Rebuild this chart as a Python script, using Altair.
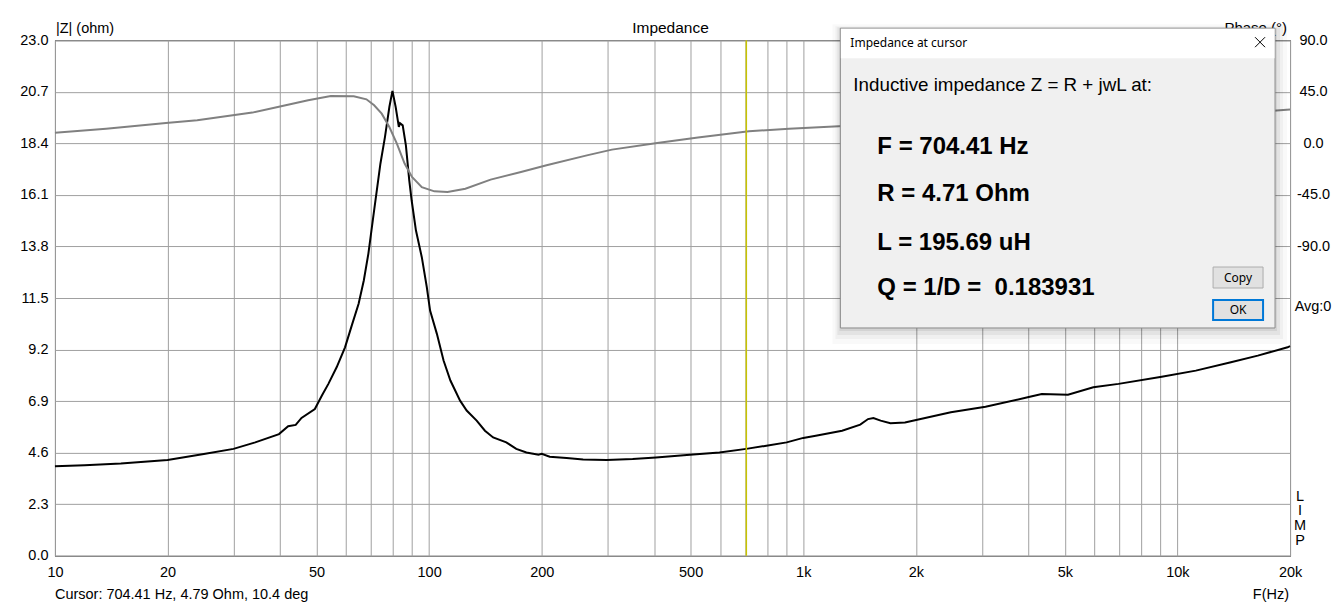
import altair as alt
import pandas as pd

# ---------------- data ----------------
z_freq = [10, 12, 15, 20, 25, 30, 34.3, 39.7, 42, 44, 45.6, 49.5, 51.7, 53.8, 56.6, 59.6,
          62.2, 64.8, 66.9, 68.8, 71.1, 74.1, 76.2, 78.3, 79.8, 81.4, 83.0, 83.6, 85.0, 86.7,
          88.5, 89.8, 92.2, 95.6, 98.6, 100.6, 104.9, 109.3, 114, 121, 126, 134, 141, 148.3,
          160.8, 171, 182, 196, 200, 210, 233, 258, 298, 350, 404, 498, 597, 704, 797, 903,
          1000, 1080, 1270, 1420, 1490, 1540, 1610, 1710, 1870, 2480, 3070, 3980, 4340, 5100,
          5960, 6960, 9080, 11200, 13900, 16400, 19700, 20000]
z_ohm = [3.99, 4.04, 4.12, 4.27, 4.54, 4.77, 5.06, 5.43, 5.78, 5.84, 6.15, 6.55, 7.15, 7.67,
         8.41, 9.30, 10.30, 11.24, 12.28, 13.47, 15.26, 17.49, 18.68, 20.02, 20.74, 20.02,
         19.13, 19.30, 19.20, 18.30, 16.75, 15.86, 14.52, 13.32, 11.98, 10.94, 9.90, 8.71,
         7.82, 6.92, 6.48, 6.03, 5.58, 5.28, 5.06, 4.77, 4.61, 4.51, 4.55, 4.42, 4.36, 4.30,
         4.27, 4.32, 4.39, 4.51, 4.61, 4.77, 4.91, 5.06, 5.26, 5.36, 5.58, 5.85, 6.10, 6.15,
         6.03, 5.91, 5.95, 6.40, 6.65, 7.07, 7.22, 7.19, 7.52, 7.67, 7.99, 8.26, 8.63, 8.93,
         9.30, 9.35]

ph_freq = [10, 13.7, 19.8, 24.0, 33.7, 39.4, 47.5, 54.6, 62.9, 68.0, 71.3, 74.7, 78.3, 82.0,
           86.0, 90.0, 95.6, 103.3, 112, 125, 146, 176, 206, 264, 308, 407, 523, 716, 916,
           1283, 2000, 3000, 5000, 8000, 12000, 16000, 20000]
ph_deg = [9.3, 12.8, 17.7, 20.1, 26.8, 31.7, 37.6, 41.3, 41.1, 38.4, 33.2, 25.9, 14.2, -0.3,
          -17.7, -29.4, -38.2, -41.9, -42.5, -39.6, -31.7, -25.0, -19.2, -10.5, -5.5, 0.3,
          5.0, 10.5, 12.8, 15.1, 16.6, 18.0, 20.0, 22.5, 25.0, 27.0, 29.5]

cursor_freq = [704.41]

x_grid_values = [10, 20, 30, 40, 50, 60, 70, 80, 90,
                 100, 200, 300, 400, 500, 600, 700, 800, 900,
                 1000, 2000, 3000, 4000, 5000, 6000, 7000, 8000, 9000,
                 10000, 20000]
x_label_values = [10, 20, 50, 100, 200, 500, 1000, 2000, 5000, 10000, 20000]
z_tick_values = [0.0, 2.3, 4.6, 6.9, 9.2, 11.5, 13.8, 16.1, 18.4, 20.7, 23.0]
phase_tick_values = [90, 45, 0, -45, -90]

# ---------------- layout ----------------
W, H = 1236, 516
FONT = "Liberation Sans"
UI_FONT = "Noto Sans"

z_df = pd.DataFrame({"f": z_freq, "z": z_ohm})
ph_df = pd.DataFrame({"f": ph_freq, "p": ph_deg})
cur_df = pd.DataFrame({"f": cursor_freq})
one = pd.DataFrame({"k": [0]})

label_expr = (
    "indexof([" + ",".join(str(v) for v in x_label_values) + "], datum.value) >= 0 ? "
    "(datum.value >= 1000 ? (datum.value / 1000) + 'k' : '' + datum.value) : ''"
)
signed_expr = ("datum.value < 0 ? '-' + format(-datum.value, '.1f') : "
               "format(datum.value, '.1f')")

x_enc = alt.X(
    "f:Q",
    scale=alt.Scale(type="log", domain=[10, 20000], nice=False),
    axis=alt.Axis(values=x_grid_values, grid=True, gridColor="#a0a0a0", gridWidth=1,
                  ticks=False, domain=False, labelExpr=label_expr, labelFontSize=14.5,
                  labelFont=FONT, labelColor="black", labelPadding=10,
                  labelOverlap=False, labelFlush=False, title=None),
)

imp = alt.Chart(z_df).mark_line(color="black", strokeWidth=2, interpolate="linear").encode(
    x=x_enc,
    y=alt.Y("z:Q", scale=alt.Scale(domain=[0, 23], nice=False, zero=False),
            axis=alt.Axis(values=z_tick_values, format=".1f", grid=True, gridColor="#a0a0a0",
                          gridWidth=1, ticks=False, domain=False, labelFontSize=14.5,
                          labelFont=FONT, labelColor="black", labelPadding=7, title=None,
                          labelOverlap=False, labelFlush=False)),
)

phase = alt.Chart(ph_df).mark_line(color="#808080", strokeWidth=2).encode(
    x=alt.X("f:Q", scale=alt.Scale(type="log", domain=[10, 20000], nice=False)),
    y=alt.Y("p:Q", scale=alt.Scale(domain=[-360, 90], nice=False, zero=False),
            axis=alt.Axis(orient="right", values=phase_tick_values, labelExpr=signed_expr,
                          grid=False, ticks=False, domain=False, labelFontSize=14.5,
                          labelFont=FONT, labelColor="black", labelPadding=23,
                          labelAlign="center", title=None, labelOverlap=False,
                          labelFlush=False)),
)

cursor = alt.Chart(cur_df).mark_rule(color="#c8c400", strokeWidth=1.5).encode(
    x=alt.X("f:Q", scale=alt.Scale(type="log", domain=[10, 20000], nice=False))
)


def txt(s, x, y, size=14.5, align="left", baseline="alphabetic", font=FONT, weight="normal",
        color="black"):
    return alt.Chart(one).mark_text(text=s, align=align, baseline=baseline, font=font,
                                    fontSize=size, fontWeight=weight, color=color).encode(
        x=alt.value(x), y=alt.value(y))


def box(x, x2, y, y2, fill, stroke=None, sw=1, opacity=1.0):
    kw = dict(fill=fill, opacity=opacity)
    if stroke:
        kw.update(stroke=stroke, strokeWidth=sw)
    else:
        kw.update(strokeWidth=0)
    return alt.Chart(one).mark_rect(**kw).encode(
        x=alt.value(x), x2=alt.value(x2), y=alt.value(y), y2=alt.value(y2))


def seg(x, y, x2, y2, color="black", sw=1):
    return alt.Chart(one).mark_rule(color=color, strokeWidth=sw).encode(
        x=alt.value(x), y=alt.value(y), x2=alt.value(x2), y2=alt.value(y2))


labels = [
    txt("|Z| (ohm)", 1, -7),
    txt("Impedance", 616, -7, size=15.5, align="center"),
    txt("Phase (°)", 1233, -7, size=15, align="right"),
    txt("Avg:0", 1259, 267, align="center", baseline="middle"),
    txt("L", 1246, 457, align="center", baseline="middle"),
    txt("I", 1246, 471, align="center", baseline="middle"),
    txt("M", 1246, 486, align="center", baseline="middle"),
    txt("P", 1246, 501, align="center", baseline="middle"),
    txt("Cursor: 704.41 Hz, 4.79 Ohm, 10.4 deg", 0, 559.5),
    txt("F(Hz)", 1235, 559.5, align="right"),
]

# dialog window "Impedance at cursor"
dx, dx2, dy, dy2 = 786, 1221, -12, 288
dialog = [
    box(dx - 8, dx2 + 12, dy - 4, dy2 + 16, "black", opacity=0.025),
    box(dx - 5, dx2 + 8, dy - 2, dy2 + 11, "black", opacity=0.035),
    box(dx - 3, dx2 + 5, dy - 1, dy2 + 7, "black", opacity=0.05),
    box(dx - 1, dx2 + 2, dy, dy2 + 3, "black", opacity=0.07),
    box(dx, dx2, dy, dy2, "#f0f0f0", stroke="#8a8a8a", sw=1),
    box(dx + 0.5, dx2 - 0.5, dy + 0.5, dy + 30, "white"),
    txt("Impedance at cursor", 796, 7, size=12, font=UI_FONT),
    seg(1201, -3, 1211, 7),
    seg(1201, 7, 1211, -3),
    txt("Inductive impedance Z = R + jwL at:", 799, 51, size=18.8),
    txt("F = 704.41 Hz", 823, 114, size=24, weight="bold"),
    txt("R = 4.71 Ohm", 823, 161, size=24, weight="bold"),
    txt("L = 195.69 uH", 823, 210, size=24, weight="bold"),
    txt("Q = 1/D = \u00a00.183931", 823, 255, size=24, weight="bold"),
    box(1159, 1209, 227, 248, "#e1e1e1", stroke="#adadad", sw=1),
    txt("Copy", 1184, 238, size=12, align="center", baseline="middle", font=UI_FONT),
    box(1159, 1209, 260, 280, "#e1e1e1", stroke="#0078d7", sw=2),
    txt("OK", 1184, 270.5, size=12, align="center", baseline="middle", font=UI_FONT),
]

chart = alt.layer(imp, phase, cursor, *labels, *dialog).resolve_scale(
    y="independent"
).properties(
    width=W, height=H,
    autosize=alt.AutoSizeParams(type="none"),
    padding={"left": 47, "top": 32, "right": 45, "bottom": 46},
    background="white",
).configure_view(stroke="black", strokeWidth=1)

chart.save("out.html", embed_options={"renderer": "svg", "actions": False})
